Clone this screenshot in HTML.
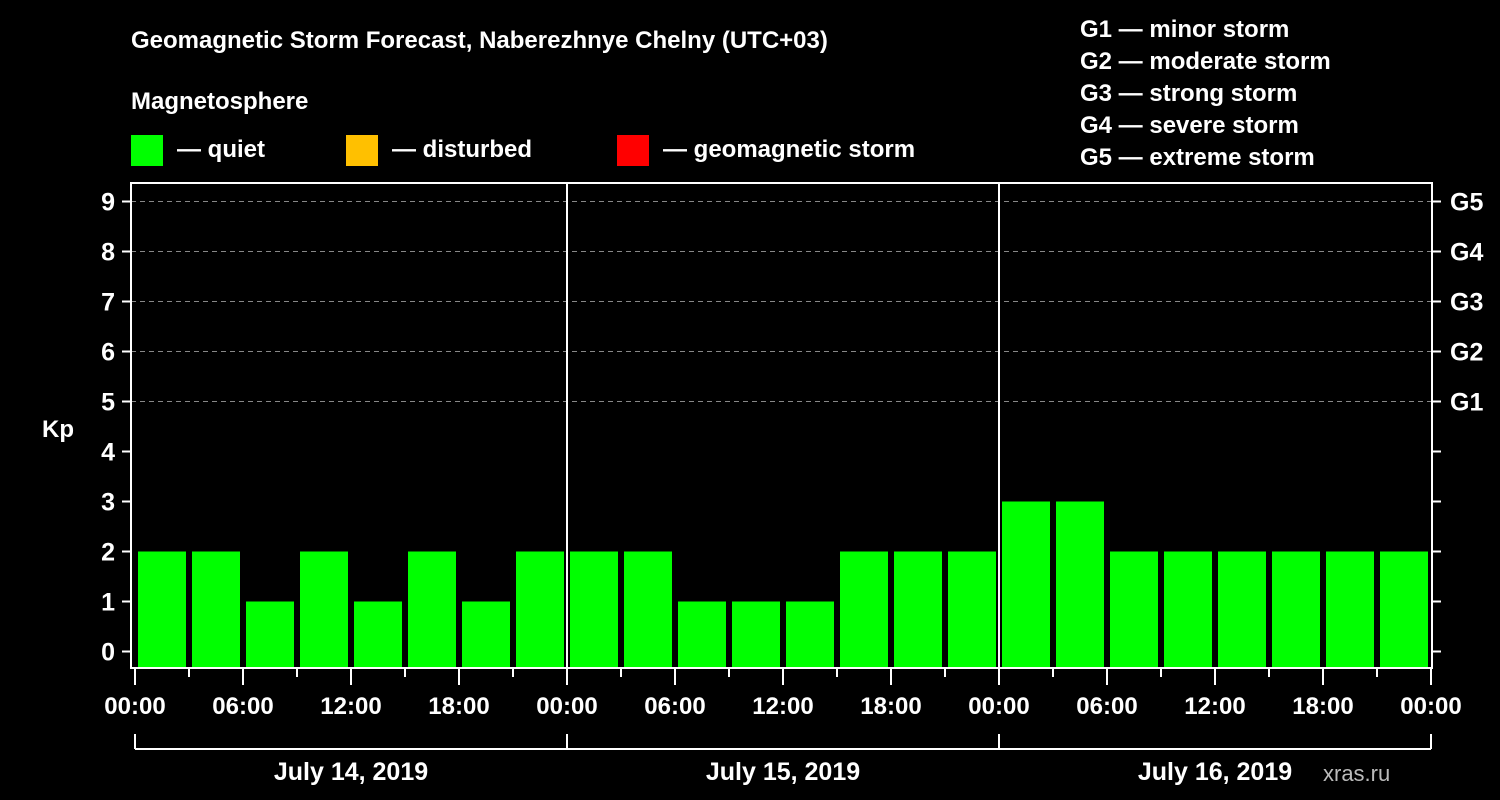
<!DOCTYPE html>
<html><head><meta charset="utf-8"><style>
body{margin:0;background:#000;}
svg{display:block;font-family:"Liberation Sans",sans-serif;font-weight:bold;}
</style></head><body>
<svg width="1500" height="800" viewBox="0 0 1500 800">
<rect width="1500" height="800" fill="#000"/>
<g fill="#fff" font-size="24">
<text x="131" y="48">Geomagnetic Storm Forecast, Naberezhnye Chelny (UTC+03)</text>
<text x="131" y="109">Magnetosphere</text>
<rect x="131" y="135" width="32" height="31" fill="#00ff00"/>
<text x="177" y="157">— quiet</text>
<rect x="346" y="135" width="32" height="31" fill="#ffc000"/>
<text x="392" y="157">— disturbed</text>
<rect x="617" y="135" width="32" height="31" fill="#ff0000"/>
<text x="663" y="157">— geomagnetic storm</text>
<text x="1080" y="37">G1 — minor storm</text>
<text x="1080" y="69">G2 — moderate storm</text>
<text x="1080" y="101">G3 — strong storm</text>
<text x="1080" y="133">G4 — severe storm</text>
<text x="1080" y="165">G5 — extreme storm</text>
<text x="42" y="437">Kp</text>
<text x="1323" y="781" font-size="22" fill="#bbb" font-weight="normal">xras.ru</text>
</g>
<g id="plot"></g>
</svg>
<script>
const kpValues=[2,2,1,2,1,2,1,2, 2,2,1,1,1,2,2,2, 3,3,2,2,2,2,2,2];
const yTicks=[0,1,2,3,4,5,6,7,8,9];
const gLabels=["G1","G2","G3","G4","G5"];
const timeLabels=["00:00","06:00","12:00","18:00","00:00","06:00","12:00","18:00","00:00","06:00","12:00","18:00","00:00"];
const dayLabels=["July 14, 2019","July 15, 2019","July 16, 2019"];
const NS="http://www.w3.org/2000/svg";
const g=document.getElementById('plot');
const X0=135,X1=1431,HOURS=72;
const x=h=>X0+(X1-X0)*h/HOURS;
const y=k=>651.5-50*k;
function mk(t,a,p){const e=document.createElementNS(NS,t);for(const k in a)e.setAttribute(k,a[k]);(p||g).appendChild(e);return e;}
// grid
[5,6,7,8,9].forEach(k=>{
 const l=mk('line',{x1:131,x2:1432,y1:y(k),y2:y(k),stroke:'#888','stroke-dasharray':'5,4','stroke-width':1});
 
 
});
// bars
const slot=(X1-X0)/kpValues.length;
kpValues.forEach((v,i)=>{
 const r=mk('rect',{x:x(i*3)+3,y:y(v),width:slot-6,height:668-y(v),fill:'#00ff00'});
 
 
});
// day separators
[24,48].forEach(h=>{
 const l=mk('line',{x1:x(h),x2:x(h),y1:182,y2:668,stroke:'#fff','stroke-width':2});
 
 
});
// frame
const fr=mk('rect',{x:131,y:183,width:1301,height:485,fill:'none',stroke:'#fff','stroke-width':2});


// y ticks
yTicks.forEach(k=>{
 mk('line',{x1:122,x2:131,y1:y(k),y2:y(k),stroke:'#fff','stroke-width':2});
 mk('line',{x1:1432,x2:1441,y1:y(k),y2:y(k),stroke:'#fff','stroke-width':2});
 const t=mk('text',{x:115,y:y(k)+9,'text-anchor':'end',fill:'#fff','font-size':25});
 t.textContent=k;
 
 
});
gLabels.forEach((s,i)=>{
 const t=mk('text',{x:1450,y:y(5+i)+9,fill:'#fff','font-size':25});
 t.textContent=s;
 
 
});
// x ticks
for(let h=0;h<=HOURS;h+=3){
 const major=h%6===0;
 mk('line',{x1:x(h),x2:x(h),y1:668,y2:major?685:677,stroke:'#fff','stroke-width':2});
}
timeLabels.forEach((s,i)=>{
 const t=mk('text',{x:x(i*6),y:714,'text-anchor':'middle',fill:'#fff','font-size':24});
 t.textContent=s;
 
 
});
// day bracket
mk('line',{x1:x(0),x2:x(72),y1:749,y2:749,stroke:'#fff','stroke-width':2});
[0,24,48,72].forEach(h=>mk('line',{x1:x(h),x2:x(h),y1:734,y2:749,stroke:'#fff','stroke-width':2}));
dayLabels.forEach((s,i)=>{
 const t=mk('text',{x:x(i*24+12),y:780,'text-anchor':'middle',fill:'#fff','font-size':25});
 t.textContent=s;
 
 
});
</script>
</body></html>
